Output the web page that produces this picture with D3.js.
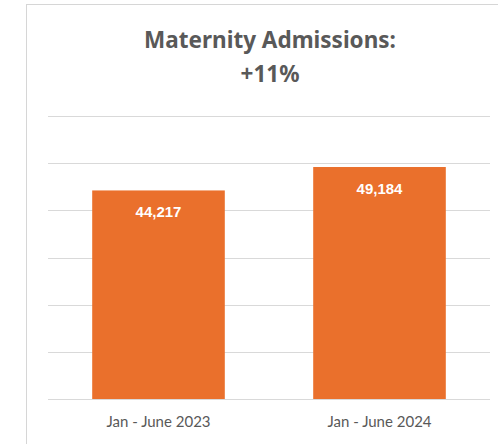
<!DOCTYPE html>
<html>
<head>
<meta charset="utf-8">
<script src="https://cdn.jsdelivr.net/npm/d3@7"></script>
<style>
  body { margin: 0; background: #fff; }
  svg { display: block; }
</style>
</head>
<body>
<div id="chart"></div>
<script>
// Data
const periods = ["Jan - June 2023", "Jan - June 2024"];
const admissions = [44217, 49184];
const gridTicks = [0, 10000, 20000, 30000, 40000, 50000, 60000];
const titleLines = ["Maternity Admissions:", "+11%"];

const width = 498, height = 444;
const margin = { left: 48, right: 8, top: 116, bottom: 45 };

const svg = d3.select("#chart")
    .append("svg")
    .attr("width", width)
    .attr("height", height);

// Card border
svg.append("rect")
    .attr("x", 26.5)
    .attr("y", 4.5)
    .attr("width", 520)
    .attr("height", 460)
    .attr("fill", "#fff")
    .attr("stroke", "#d6d6d6");

const x = d3.scaleBand()
    .domain(periods)
    .range([margin.left, width - margin.right])
    .paddingInner(0.4)
    .paddingOuter(0.2);

const y = d3.scaleLinear()
    .domain([0, 60000])
    .range([height - margin.bottom, margin.top]);

// Gridlines
svg.append("g")
    .selectAll("line")
    .data(gridTicks)
    .join("line")
    .attr("x1", margin.left)
    .attr("x2", width - margin.right)
    .attr("y1", d => Math.round(y(d)) + 0.5)
    .attr("y2", d => Math.round(y(d)) + 0.5)
    .attr("stroke", "#d9d9d9")
    .attr("stroke-width", 1.2);

// Bars
svg.append("g")
    .selectAll("rect")
    .data(admissions)
    .join("rect")
    .attr("x", (d, i) => x(periods[i]))
    .attr("y", d => y(d))
    .attr("width", x.bandwidth())
    .attr("height", d => y(0) - y(d))
    .attr("fill", "#ea702c");

// Value labels inside bars
svg.append("g")
    .selectAll("text")
    .data(admissions)
    .join("text")
    .attr("x", (d, i) => x(periods[i]) + x.bandwidth() / 2)
    .attr("y", d => y(d) + 27)
    .attr("text-anchor", "middle")
    .attr("fill", "#fff")
    .style("font-family", "'Liberation Sans', Arial, sans-serif")
    .style("font-weight", "bold")
    .style("font-size", "15px")
    .text(d => d3.format(",")(d));

// Category axis labels
svg.append("g")
    .attr("transform", `translate(0,${y(0)})`)
    .call(d3.axisBottom(x).tickSize(0).tickPadding(17))
    .call(g => g.select(".domain").remove())
    .selectAll("text")
    .attr("fill", "#595959")
    .style("font-family", "Lato, 'Open Sans', sans-serif")
    .style("font-size", "15px");

// Title
svg.append("g")
    .selectAll("text")
    .data(titleLines)
    .join("text")
    .attr("x", 270)
    .attr("y", (d, i) => 48 + i * 34)
    .attr("text-anchor", "middle")
    .attr("fill", "#595959")
    .style("font-family", "'Noto Sans', 'Open Sans', sans-serif")
    .style("font-weight", "bold")
    .style("font-size", "22.5px")
    .text(d => d);
</script>
</body>
</html>
